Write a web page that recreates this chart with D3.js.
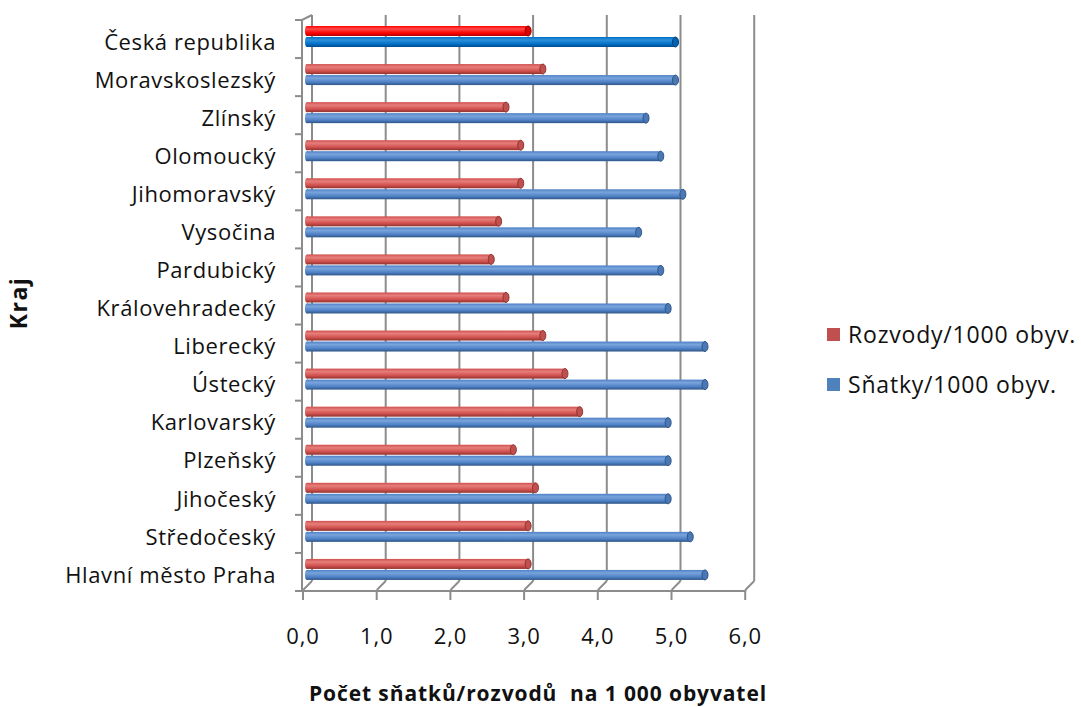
<!DOCTYPE html>
<html><head><meta charset="utf-8">
<script src="https://cdn.jsdelivr.net/npm/d3@7"></script>
<style>body{margin:0;background:#fff}svg{display:block}text{font-family:"Open Sans","Liberation Sans",sans-serif;fill:#111}</style>
</head><body><svg id="c" width="1081" height="707"></svg>
<script>
const categories = ["Česká republika","Moravskoslezský","Zlínský","Olomoucký","Jihomoravský","Vysočina","Pardubický","Královehradecký","Liberecký","Ústecký","Karlovarský","Plzeňský","Jihočeský","Středočeský","Hlavní město Praha"];
const rozvody = [3.0,3.2,2.7,2.9,2.9,2.6,2.5,2.7,3.2,3.5,3.7,2.8,3.1,3.0,3.0];
const snatky  = [5.0,5.0,4.6,4.8,5.1,4.5,4.8,4.9,5.4,5.4,4.9,4.9,4.9,5.2,5.4];
const ticks = [0,1,2,3,4,5,6];
const tickLabels = ["0,0","1,0","2,0","3,0","4,0","5,0","6,0"];
const seriesNames = ["Rozvody/1000 obyv.","Sňatky/1000 obyv."];

const svg = d3.select("#c");
const x = d3.scaleLinear().domain([0,6]).range([307, 307+6*73.7]);
const y = d3.scaleBand().domain(categories).range([20, 591]).padding(0);

const defs = svg.append("defs");
function grad(id, light, mid, dark){
  const g = defs.append("linearGradient").attr("id",id).attr("x1",0).attr("y1",0).attr("x2",0).attr("y2",1);
  g.append("stop").attr("offset","0%").attr("stop-color",mid);
  g.append("stop").attr("offset","30%").attr("stop-color",light);
  g.append("stop").attr("offset","70%").attr("stop-color",mid);
  g.append("stop").attr("offset","100%").attr("stop-color",dark);
}
grad("gr","#e67e7b","#d0504d","#8f3331");
grad("gb","#79a4dc","#4f81c6","#2f5687");
grad("grC","#ff4a4a","#ff0000","#b00000");
grad("gbC","#2d8fd8","#0070c8","#00498a");

const frontL = 302, backT = 15, backB = 581, frontB = 591;
const gx = v => x(v)+5;   // back wall
const fx = v => x(v)-4;   // front axis
const grid = svg.append("g").attr("stroke","#8c8c8c").attr("fill","none").attr("stroke-width",2);
grid.selectAll("line.g").data(ticks).join("line")
  .attr("x1",d=>gx(d)).attr("x2",d=>gx(d)).attr("y1",backT).attr("y2",backB);
grid.selectAll("path.d").data(ticks).join("path")
  .attr("d",d=>`M${gx(d)},${backB} L${fx(d)+1},${frontB-2} L${fx(d)},${frontB}`);
grid.append("path").attr("d",`M${frontL-7},${y(categories[0])} L${frontL},${y(categories[0])} L${gx(0)},${backT}`);
grid.append("line").attr("x1",frontL).attr("x2",frontL).attr("y1",y(categories[0])).attr("y2",frontB);
grid.selectAll("line.yt").data(categories).join("line")
  .attr("x1",frontL-7).attr("x2",frontL).attr("y1",d=>y(d)).attr("y2",d=>y(d));
grid.append("line").attr("x1",frontL-7).attr("x2",frontL).attr("y1",frontB).attr("y2",frontB);
grid.append("line").attr("x1",frontL-7).attr("x2",fx(6)).attr("y1",frontB).attr("y2",frontB);
grid.selectAll("line.xt").data(ticks).join("line")
  .attr("x1",d=>fx(d)).attr("x2",d=>fx(d)).attr("y1",frontB).attr("y2",frontB+9);

const bars = svg.append("g");
function drawBar(cat, v, off, fill, capFill, capStroke){
  const y0 = y(cat)+off, h = 10, x0 = x(0), x1 = x(v);
  bars.append("rect").attr("x",x0).attr("y",y0).attr("width",x1-x0).attr("height",h).attr("fill",`url(#${fill})`);
  bars.append("ellipse").attr("cx",x0).attr("cy",y0+h/2).attr("rx",2).attr("ry",h/2).attr("fill",`url(#${fill})`);
  bars.append("ellipse").attr("cx",x1).attr("cy",y0+h/2).attr("rx",3).attr("ry",h/2).attr("fill",capFill).attr("stroke",capStroke).attr("stroke-width",1);
}
categories.forEach((c,i)=>{
  const cz = i===0;
  drawBar(c, rozvody[i], 6, cz?"grC":"gr", cz?"#e00000":"#c0504d", cz?"#900000":"#8f3331");
  drawBar(c, snatky[i], 17, cz?"gbC":"gb", cz?"#0062b0":"#4a78b5", cz?"#003f78":"#2f5687");
});

svg.append("g").selectAll("text").data(categories).join("text")
  .attr("x",276).attr("y",d=>y(d)+y.bandwidth()/2+3).attr("dy","0.35em")
  .attr("text-anchor","end").attr("font-size",22).attr("letter-spacing","0.6").text(d=>d);
svg.append("g").selectAll("text").data(ticks).join("text")
  .attr("x",d=>fx(d)).attr("y",644).attr("text-anchor","middle").attr("font-size",22).attr("letter-spacing","0.8")
  .text((d,i)=>tickLabels[i]);
svg.append("text").attr("x",538).attr("y",701).attr("text-anchor","middle").attr("font-size",21).attr("font-weight","bold")
  .attr("letter-spacing","0.9").style("white-space","pre")
  .text("Počet sňatků/rozvodů  na 1 000 obyvatel");
svg.append("text").attr("transform","translate(27,303) rotate(-90)").attr("text-anchor","middle").attr("font-size",23).attr("font-weight","bold").attr("letter-spacing","1.5").text("Kraj");
const leg = svg.append("g");
const legColors = ["#c0504d","#4f81bd"];
seriesNames.forEach((n,i)=>{
  leg.append("rect").attr("x",827).attr("y",328+i*50).attr("width",13).attr("height",13).attr("fill",legColors[i]);
  leg.append("text").attr("x",848).attr("y",343+i*50).attr("font-size",23).attr("letter-spacing","0.8").text(n);
});
</script></body></html>
